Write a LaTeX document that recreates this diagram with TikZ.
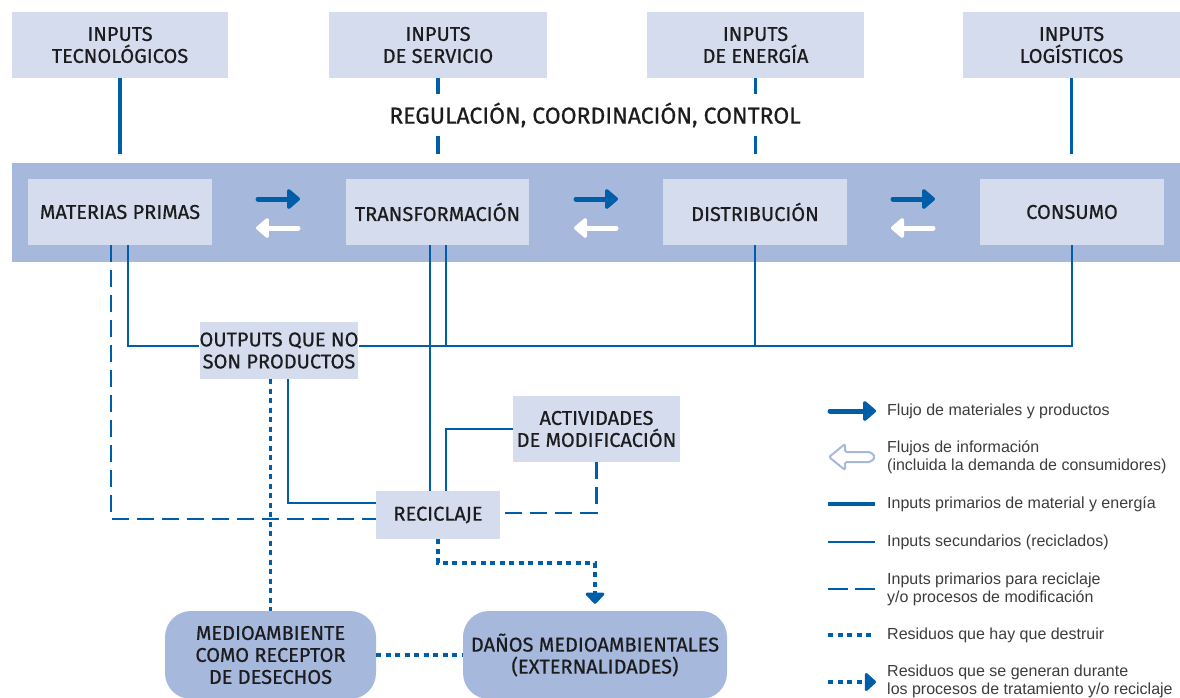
\documentclass[tikz,border=0pt]{standalone}
\usepackage{fontspec}
\setmainfont{Liberation Sans}
\newfontfamily\lab{Fira Sans}[FakeBold=0.6]
\usetikzlibrary{arrows.meta}
\definecolor{cblue}{RGB}{0,94,168}
\definecolor{cband}{RGB}{166,184,220}
\definecolor{clight}{RGB}{212,220,237}
\definecolor{ctext}{RGB}{28,28,30}
\definecolor{cleg}{RGB}{60,60,62}
\begin{document}
\begin{tikzpicture}[x=1pt,y=-1pt,
  labfont/.style={font=\lab\fontsize{20}{22}\selectfont},
  lbox/.style={fill=clight, draw=none, inner sep=0pt, align=center, labfont, text=ctext},
  rbox/.style={fill=cband, draw=none, rounded corners=26pt, inner sep=0pt, align=center, labfont, text=ctext},
  thickln/.style={draw=cblue, line width=3.6pt},
  thinln/.style={draw=cblue, line width=2pt},
  dashln/.style={draw=cblue, line width=2.6pt, dash pattern=on 17pt off 8pt},
  dotln/.style={draw=cblue, line width=3.4pt, dash pattern=on 5pt off 4.5pt},
  flowarrow/.style={line width=5pt, line cap=round, -{Triangle[length=14pt,width=23pt,round]}},
  legtext/.style={anchor=west, align=left, inner sep=0pt, text=cleg, font=\fontsize{16}{18}\selectfont},
]
\useasboundingbox (0,0) rectangle (1180,697);

% top input boxes
\node[lbox, minimum width=216pt, minimum height=66pt] (in1) at (120,45) {INPUTS\\TECNOLÓGICOS};
\node[lbox, minimum width=218pt, minimum height=66pt] (in2) at (438,45) {INPUTS\\DE SERVICIO};
\node[lbox, minimum width=217pt, minimum height=66pt] (in3) at (755.5,45) {INPUTS\\DE ENERGÍA};
\node[lbox, minimum width=217pt, minimum height=66pt] (in4) at (1071.5,45) {INPUTS\\LOGÍSTICOS};

% input lines
\draw[thickln] (in1.south) -- ++(0,76);
\draw[thickln] (in2.south) -- ++(0,76);
\draw[thickln] (in3.south) -- ++(0,76);
\draw[thickln] (in4.south) -- ++(0,76);
\node[fill=white, inner xsep=2pt, inner ysep=9pt, text=ctext, font=\lab\fontsize{23}{26}\selectfont] (reg) at (595,115) {REGULACIÓN, COORDINACIÓN, CONTROL};

% band
\node[fill=cband, draw=none, inner sep=0pt, minimum width=1168pt, minimum height=99pt] (band) at (596,212.5) {};
\node[lbox, minimum width=184pt, minimum height=66pt] (mp) at (120,212) {MATERIAS PRIMAS};
\node[lbox, minimum width=183pt, minimum height=66pt] (tr) at (437.5,212) {TRANSFORMACIÓN};
\node[lbox, minimum width=184pt, minimum height=66pt] (di) at (755,212) {DISTRIBUCIÓN};
\node[lbox, minimum width=184pt, minimum height=66pt] (co) at (1072,212) {CONSUMO};

% flow arrows in band
\foreach \i/\x in {1/278, 2/596, 3/913}{
  \coordinate (fa\i) at (\x-20,199);
  \coordinate (fb\i) at (\x+22,199);
  \coordinate (ia\i) at (\x+20,228);
  \coordinate (ib\i) at (\x-22,228);
  \draw[flowarrow, cblue] (fa\i) -- (fb\i);
  \draw[flowarrow, white] (ia\i) -- (ib\i);
}

% middle boxes
\node[lbox, minimum width=150pt, minimum height=57pt] (out) at (279,350.5) {OUTPUTS QUE NO\\SON PRODUCTOS};
\node[lbox, minimum width=167pt, minimum height=66pt] (act) at (596.5,429) {ACTIVIDADES\\DE MODIFICACIÓN};
\node[lbox, minimum width=124pt, minimum height=48pt] (rec) at (438,515) {RECICLAJE};
\coordinate (hl) at (0,346);

% connectors
\draw[thinln] ([xshift=8pt]mp.south) |- ([yshift=4.5pt]out.west);
\draw[thinln] ([yshift=4.5pt]out.east) -| (co.south);
\draw[thinln] (di.south) -- (di.south |- hl);
\draw[thinln] ([xshift=8.5pt]tr.south) -- ([xshift=8.5pt]tr.south |- hl);
\draw[thinln] ([xshift=-7.5pt]tr.south) -- ([xshift=-8pt]rec.north);
\draw[thinln] (act.west) -| ([xshift=8pt]rec.north);
\draw[thinln] ([xshift=9pt]out.south) |- ([yshift=12pt]rec.west);
\draw[dashln] ([xshift=-9pt]mp.south) |- ([yshift=-4pt]rec.west);
\draw[dashln] (act.south) |- ([yshift=2pt]rec.east);

% bottom boxes
\node[rbox, minimum width=211pt, minimum height=88pt] (med) at (270.5,655) {MEDIOAMBIENTE\\COMO RECEPTOR\\DE DESECHOS};
\node[rbox, minimum width=264pt, minimum height=88pt] (dan) at (595,655) {DAÑOS MEDIOAMBIENTALES\\(EXTERNALIDADES)};

\draw[dotln] (med.north |- out.south) -- (med.north);
\draw[dotln] (med.east) -- (dan.west);
\draw[dotln, -{Triangle[length=12pt,width=22pt,round]}] (rec.south) |- ([yshift=48pt]dan.north) -- ([yshift=7pt]dan.north);

% legend
\coordinate (l1a) at (830,411); \coordinate (l1b) at (876,411);
\draw[flowarrow, cblue] (l1a) -- (l1b);
\node[legtext] (t1) at (887,411) {Flujo de materiales y productos};

\draw[draw=cband, line width=2pt, fill=white, rounded corners=2pt]
  (829,457) -- (845,444) -- (845,452) -- (871,452) -- (875,457) -- (871,462) -- (845,462) -- (845,470) -- cycle;
\node[legtext] (t2) at (887,457) {Flujos de información\\(incluida la demanda de consumidores)};

\coordinate (l3a) at (828,504); \coordinate (l3b) at (875,504);
\draw[thickln] (l3a) -- (l3b);
\node[legtext] (t3) at (887,504) {Inputs primarios de material y energía};

\coordinate (l4a) at (828,542); \coordinate (l4b) at (875,542);
\draw[thinln] (l4a) -- (l4b);
\node[legtext] (t4) at (887,542) {Inputs secundarios (reciclados)};

\coordinate (l5a) at (828,589); \coordinate (l5b) at (875,589);
\draw[draw=cblue, line width=2.6pt, dash pattern=on 20pt off 7pt] (l5a) -- (l5b);
\node[legtext] (t5) at (887,589) {Inputs primarios para reciclaje\\y/o procesos de modificación};

\coordinate (l6a) at (828,635); \coordinate (l6b) at (875,635);
\draw[dotln] (l6a) -- (l6b);
\node[legtext] (t6) at (887,635) {Residuos que hay que destruir};

\coordinate (l7a) at (828,682); \coordinate (l7b) at (876,682);
\draw[dotln, -{Triangle[length=12pt,width=21pt,round]}] (l7a) -- (l7b);
\node[legtext] (t7) at (887,681) {Residuos que se generan durante\\los procesos de tratamiento y/o reciclaje};
\end{tikzpicture}
\end{document}
